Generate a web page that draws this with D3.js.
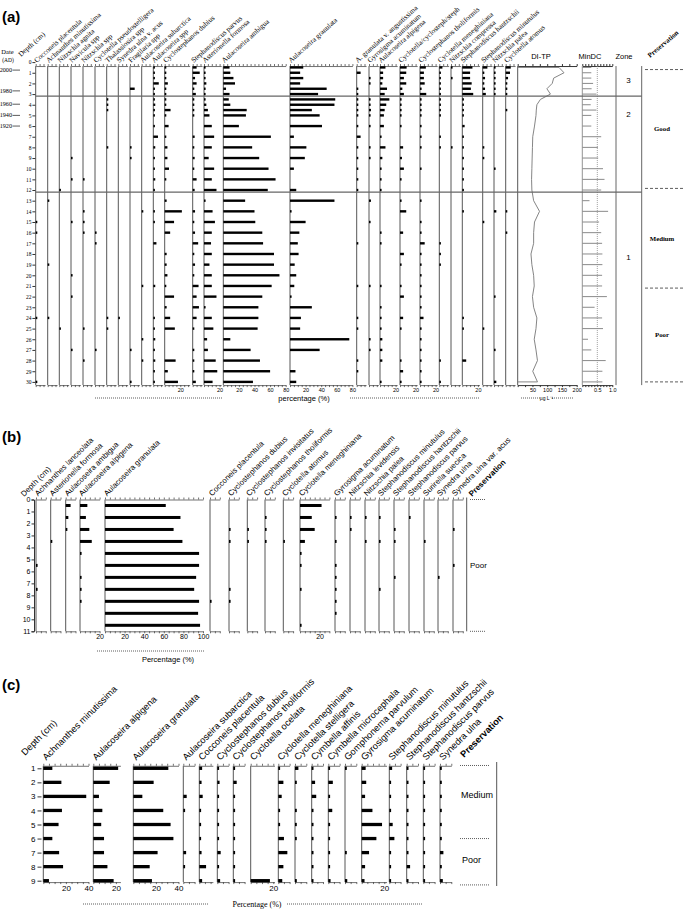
<!DOCTYPE html>
<html>
<head>
<meta charset="utf-8">
<script src="https://cdnjs.cloudflare.com/ajax/libs/d3/7.8.5/d3.min.js"></script>
<style>
  body { margin: 0; background: #fff; }
</style>
</head>
<body>
<div id="chart"></div>
<script>
// ---------- panel (a) data ----------
const depthsA = [0.5,1,1.5,2,2.5,3,3.5,4,4.5,5,6,7,8,9,10,11,12,13,14,15,16,17,18,19,20,21,22,23,24,25,26,27,28,29,30];
const taxaA = ["Cocconeis placentula","Achnanthes minutissima","Nitzschia agnita","Navicula spp","Nitzschia spp",
  "Cyclotella pseudostelligera","Thalassiosira spp","Synedra ulna v. acus","Fragilaria spp","Aulacoseira subarctica",
  "Aulacoseira spp","Cyclostephanos dubius","Stephanodiscus parvus","Asterionella formosa","Aulacoseira ambigua",
  "Aulacoseira granulata","A. granulata v. angustissima","Gyrosigma acuminatum","Aulacoseira alpigena",
  "Cyclotella/cyclosteph/steph","Cyclostephanos tholiformis","Cyclotella meneghiniana","Nitzschia compressa",
  "Stephanodiscus hantzschii","Stephanodiscus minutulus","Nitzschia palea","Cyclotella atomus"];
const valsA = [
  [0,0,0,0,0, 0,0,0,0,0, 0,0,0,0,0, 0,0,0,0,0.5, 0.5,0,0,0,0, 0,0,0,1,0, 0,0,0,0,1.5],
  [0,0,0,0,0, 0,0,0,0,0, 0,0,0,0,0, 0,0,1,0,0, 0,0,0,1,0, 0,0,0,0.5,0, 0,0,0,0,0],
  [0,0,0,0,0, 0,0,0,0,0, 0,0,0,0,0, 0,1,0,0,0, 0,0,0,0,0, 0,0,0,0,1, 0,0,0,0,0],
  [0,0,0,0,0, 0,0,0,0,0, 0,0,0,0.5,0, 0.5,0,0,0,1, 0,0,0,0,0.5, 0,0.5,0,0,0, 0,0.5,0,0,0],
  [0,0,0,0,0, 0,0,0,0,0, 0,0,0,0,0, 1,0,0,0.5,0.5, 1,0,0,0,0, 0,0,0,0,1, 0,0,0.5,0,0],
  [0,0,0,0,0, 0,0,0,0,0, 0,0,0,0,0, 0,0,0,0,0, 1,1.5,0,0,0, 0,0,0,0,0, 0,0.5,0,0,0],
  [0,0,0,0,0, 0,1.2,1.2,0.8,0, 0,0,0.5,0,0, 0,0,0,0,0, 0,0,0,0,0, 0,0,0,1,0.5, 0,0,0,0,0],
  [0,0,0,0,0, 0,0,0,0,0, 0,0,0,0,0, 0,0,0,0,0, 0,0,0,0,0, 0,0,0,0.5,0, 0,0,0,0,0],
  [0,0,0,0,6, 0,0,0,0,0, 0,0,1,1.5,0, 0,0,0,0,0, 0,0,0,0,0, 0,0,0,0,0, 0,1.5,0,0,1],
  [0,0,0,0,0, 0,0,0,0,0, 0,0,0,0,0, 0,0,0,1,0, 0,0,0,0,0, 1,0,0,0,0, 1.5,0,0.5,0,0],
  [0.5,1,1,7,1, 1,0.5,2.5,1,1, 1,6,2.5,1,1, 2.5,1,0,1.5,0.5, 0,4,0,0,0, 2.5,0,0,0.5,1.5, 2.5,1,2.5,0.5,1],
  [1.5,2,2,4,2, 1,1,1,7.5,1, 5,0.5,3.5,3.5,5.5, 1.5,0,2.5,22,12, 7,0,2.5,2.5,3.5, 0.5,12,2.5,7,13, 0,0,14,4,17],
  [5,9,3,5,2, 4,1,1,2,1, 0,2.5,1,2.5,2, 5,2.5,0,3,1.5, 3,7,0.5,3,2, 7.5,5,8,5,1, 0,1,1,1.5,4],
  [1,1,1,3,0.5, 1.5,1,3,5,7, 10,13,10,6,13, 10,16,1.5,11,14, 10,9,10,7,10, 10,16,1.5,10,12, 4,5,15,17,11],
  [8,9,13,15,3.5, 8,7,9,30,29, 20,61,37,46,58, 67,57,28,40,41, 50,51,65,65,72, 62,50,45,45,44, 9,35,47,60,38],
  [17,13,17,13,47, 36,58,57,28,38, 41,5,21,19,5, 0,8,57,2,20, 12,10,11,6,8, 5.5,1,28,14,13, 76,38,0,7,8],
  [0,5,0,0,0.5, 0.5,0.5,2,0.5,0.5, 0.5,5,1,0.5,1, 2,0.5,0,0,0, 0,1,0,0,0, 0.5,0,0,0.5,1.5, 0,0,0.5,0.5,0],
  [0,0,1,0.5,0, 0,1.5,2,2.5,1, 1,0,2,1,0, 0,0,2.5,0,0.5, 0,0,0,0,0, 1,0,0,0,0, 1,1.5,0,0,0],
  [7,4,4,3,9, 6,12,8,6,5, 5,0.5,7,3,0.5, 1,0.5,0,0,0, 1,0.5,0,0,0, 0.5,0,0.5,0.5,0.5, 3,3,3,0,1],
  [8.5,8,5,8,3, 5,1,1,1.5,1, 2,0,4,2.5,5, 1,0,1,8,0, 4,0,5,1,0, 1,5,0,4,1, 0,0,1,4,0.5],
  [7.5,5,5,6,1, 8,0.5,0.5,0.5,0.5, 0.5,0.5,0.5,0,0.5, 0,0,0.5,0,1, 1.5,6,2,1,0.5, 2,2,0.5,4.5,0.5, 0.5,0.5,0.5,0.5,1],
  [4,2,2,2,1, 1,1.5,1,1,0.5, 0,0.5,0.5,0,0, 0,0,0,0,0, 0,1.5,1,1.5,0, 0,0,0,0,0, 0,0,1.5,0,2],
  [0.5,0,0.5,0,0, 0,0,0,0,0, 0,0,0.5,0,0, 0,0,0,0,0, 0,0,0,0,0, 0,0,0,0,0, 0,0,0,0,0],
  [13,10,10,12,11, 14,1,1,1,0.5, 3,1,1,2,1, 1,1,0,1,0, 0,0,0,0,0, 0,0,0,1.5,2, 0,0,5,0,0],
  [6,2,3,1.5,3, 4,0,0,0,0, 0,0,0.5,0.5,0, 0,0,0,0,0.5, 0,0,0,0,0, 0,0,0,0,0.5, 0,0,0,0,0],
  [1,0.5,1,0.5,1, 0.5,0,0,0,0, 0,0,0,0,1, 0,0,0,3,0, 0,0,0,0,0, 0,2,0,0,0, 0,1,0,0,3],
  [6.5,5.5,3,2,1.5, 1,0,0,0.5,0, 0,0,0,0,0, 0,0,0,1,0, 0.5,0,0,0,0, 0,0,0,0,0, 0,0,0,0,0]
];
const maxA = [12,12,12,12,12,12,12,12,12,12,12,32,12,22,80,80,12,12,22,22,22,12,12,22,12,12,12];
const diTP = [140,157,122,117,99, 111,77,65,63,62, 57,51,50,49,48, 47,48,54,74,57, 54,54,45,48,54, 56,50,54,65,62, 56,62,67,51,67];
const minDC = [0.3,0.3,0.3,0.36,0.31, 0.47,0.31,0.28,0.47,0.3, 0.3,0.63,0.52,0.53,0.69, 0.74,0.63,0.24,0.86,0.56, 0.63,0.66,0.67,0.67,0.66, 0.66,0.82,0.41,0.66,0.69, 0.19,0.3,0.78,0.67,0.67];
const dateYears = [2000,1980,1960,1940,1920];
const dateDepths = [0.75,2.7,3.95,5,6];
const zoneBreaksA = [3.2,12.2];
const zoneNames = ["3","2","1"];
const zoneLabelDepths = [1.7,4.9,18.3];
const presBreaksA = [0.7,11.85,21.2,30];
const presNamesA = ["Good","Medium","Poor"];

// ---------- panel (b) data ----------
const depthsB = [0.5,1.5,2.5,3.5,4.5,5.5,6.5,7.5,8.5,9.5,10.5];
const taxaB = ["Achnanthes lanceolata","Asterionella formosa","Aulacoseira ambigua","Aulacoseira alpigena",
  "Aulacoseira granulata","Cocconeis placentula","Cyclostephanos dubius","Cyclostephanos invisitatus",
  "Cyclostephanos tholiformis","Cyclotella atomus","Cyclotella meneghiniana","Gyrosigma acuminatum",
  "Nitzschia levidensis","Nitzschia palea","Stephanodiscus minutulus","Stephanodiscus hantzschii",
  "Stephanodiscus parvus","Surirella suecica","Synedra ulna","Synedra ulna var. acus"];
const valsB = [
  [0,0,0,0,0,0.5,0,0.5,0,0,0],
  [0,0,0,0.3,0,0,0,0,0,0,0],
  [5,2.7,1.7,0,0,0,0,0,0,0,0],
  [7.5,6,9.5,12,1,0,1.5,1.5,1,0,0],
  [62,77,70,79,96,96,93,91,96,95,97],
  [0,0,0,0,0,0,0,0,0.5,0,0],
  [0,0,0.5,0.5,0,0,0,0.5,0.5,0,0],
  [0,0,0.5,0.5,0,0,0,0,0,0,0],
  [0,0.5,0.5,0.5,0,0,0,0,0,0,0],
  [0,0,0,0.5,0,0,0,0,0,0,0],
  [22,12,15,5,0.5,1.5,0,1,0,0,0.5],
  [0,0.5,0,0.3,0,0.5,1.5,0.5,0.5,1.5,0],
  [0,0.5,0.5,0,0,0,0,0,0,0,0],
  [0,0.5,0,0.5,0,0,0,0,0,0,0],
  [0,0.5,0,0.5,0,0,0,0.5,0,0,0],
  [0,0,0.5,0.5,0,0,1.5,0,0,0,0],
  [0,0.5,0,0,0,0,0,0,0,0,0],
  [0,0,0,0.5,0,0,0,0,0,0,0],
  [0,0,0,0,0,0,1,0,0,0,0],
  [0,0,0.5,0,0,0.5,0,0,0,0,0]
];
const maxB = [10,10,10,20,100,10,10,10,10,10,30,10,10,10,10,10,10,10,10,10];

// ---------- panel (c) data ----------
const depthsC = [1,2,3,4,5,6,7,8,9];
const taxaC = ["Achnanthes minutissima","Aulacoseira alpigena","Aulacoseira granulata","Aulacoseira subarctica",
  "Cocconeis placentula","Cyclostephanos dubius","Cyclostephanos tholiformis","Cyclotella ocelata",
  "Cyclotella meneghiniana","Cyclotella stelligera","Cymbella affinis","Cymbella microcephala",
  "Gomphonema parvulum","Gyrosigma acuminatum","Stephanodiscus minutulus","Stephanodiscus hantzschii",
  "Stephanodiscus parvus","Synedra ulna"];
const valsC = [
  [8,16,38,16.5,13.5,8,14,17.5,5],
  [22,14.5,5,8,7,9.5,9.5,12.5,18],
  [31,18,8,26.5,33,35.5,21.5,14.5,16.5],
  [0,0,3,1,0,0,2.5,0.5,0],
  [2.5,2,3,0.5,0.5,0.5,2,6,2.5],
  [0.5,2,1,1,1,1,3,1.5,2.5],
  [1,3,0.5,0.5,0.5,1.5,1,0.5,0.5],
  [0,0,0,0,0,0,0,0,17],
  [1.5,4.5,3,1,1.5,5,8,4.5,3.5],
  [3,0.5,0,0.5,0.5,0.5,0,0,0.5],
  [1,3,4,1,0.5,0.5,0.5,1,1],
  [1,4,1,3.5,0.5,1,0.5,1,2],
  [0.5,0,0,0,0,0,1.5,0,2],
  [3.5,4,3,9.5,18,13,6.5,3,2.5],
  [2.5,0.5,0.5,0.5,3,4.5,1.5,1,1.5],
  [0.5,0.5,0.5,0.5,0.5,0.5,0.5,3,1],
  [0.5,0.5,0.5,0.5,0.5,0.5,0.5,0.5,0.5],
  [0.5,0.5,0.5,0.5,0.5,0.5,3,0.5,2.5]
];
const maxC = [40,24,40,10,12,10,10,21,10,10,10,10,10,22,10,10,10,10];

// ---------- layout ----------
const xsA = [35.7,47.7,59.3,71,83,95,106.7,118.3,130,141.7,153.3,164.7,192.7,204,223.3,290,356.7,369,380,400,420,439.3,451,462.3,482.7,494,505.7];
const xsB = [36,50.7,65.7,80,105,210,229,247.3,265,283.3,300,335,350,365,379,394,409,424,438,453];
const xsC = [43.3,93.3,133.3,183.3,199.3,217.3,233.3,250.7,278.3,295,311.7,328.3,345,361.7,389.3,406.7,423.3,440];

const SERIF = '"Liberation Serif","DejaVu Serif",serif';
const SANS = '"Liberation Sans",Arial,sans-serif';

const svg = d3.select("#chart").append("svg")
  .attr("width", 685).attr("height", 909);

function tickLabels(mx) {
  if (mx >= 100) return [20,40,60,80,100];
  if (mx >= 80) return [20,40,60,80];
  if (mx >= 40) return [20,40];
  if (mx >= 20) return [20];
  return [];
}

// one stratigraphic column per taxon
function drawColumns(g, p) {
  p.taxa.forEach((name, i) => {
    const x0 = p.xs[i], mx = p.maxes[i];
    const x = d3.scaleLinear().domain([0, mx]).range([x0, x0 + mx * p.k]);
    const ticks = d3.range(0, mx + 0.001, 5);
    const lab = tickLabels(mx);
    const col = g.append("g");

    col.append("g").attr("transform", `translate(0,${p.yTop})`)
      .call(d3.axisTop(x).tickValues(ticks).tickSize(2).tickSizeOuter(0).tickFormat(""))
      .attr("color", "#333").selectAll("path,line").attr("stroke-width", 0.7);

    col.append("g").attr("transform", `translate(0,${p.yBot})`)
      .call(d3.axisBottom(x).tickValues(ticks).tickSize(2).tickSizeOuter(0).tickPadding(1)
        .tickFormat(v => lab.includes(v) ? v : ""))
      .attr("color", "#333")
      .attr("font-size", p.tickFs).attr("font-family", p.tickFf)
      .call(a => a.selectAll("path,line").attr("stroke-width", 0.7))
      .call(a => a.selectAll("text").attr("fill", "#000"));

    col.append("line")
      .attr("x1", x0).attr("x2", x0).attr("y1", p.yTop).attr("y2", p.yBot)
      .attr("stroke", "#444").attr("stroke-width", 0.9);

    col.selectAll("rect")
      .data(p.vals[i].map((v, j) => ({v: v, d: p.depths[j]})).filter(e => e.v > 0))
      .join("rect")
        .attr("x", x0)
        .attr("y", e => p.y(e.d) - p.barH / 2)
        .attr("width", e => Math.max(p.minW, x(e.v) - x0))
        .attr("height", p.barH)
        .attr("fill", "#000");

    col.append("text")
      .attr("transform", `translate(${x0 + p.lx},${p.yTop + p.ly}) rotate(${-p.angle})`)
      .attr("font-size", p.fs).attr("font-family", p.ff)
      .text(name);
  });
}

function dotted(g, x1, x2, y, dash) {
  g.append("line").attr("x1", x1).attr("x2", x2).attr("y1", y).attr("y2", y)
    .attr("stroke", "#333").attr("stroke-width", 0.8).attr("stroke-dasharray", dash || "1,1");
}

// ================= panel (a) =================
const gA = svg.append("g");
const yA = d3.scaleLinear().domain([0, 30]).range([62.1, 381.9]);
const yTopA = yA(0.37), yBotA = yA(30.3);

gA.append("text").attr("x", 2).attr("y", 22).attr("font-size", 15).attr("font-weight", "bold")
  .attr("font-family", SANS).text("(a)");

drawColumns(gA, {taxa: taxaA, vals: valsA, depths: depthsA, xs: xsA, maxes: maxA, k: 0.78,
  y: yA, yTop: yTopA, yBot: yBotA, barH: 2.4, minW: 1.6, tickFs: 5.5, tickFf: SANS,
  lx: 1, ly: -3, angle: 42, fs: 7.2, ff: SERIF});

// depth axis
gA.append("g").attr("transform", "translate(35.4,0)")
  .call(d3.axisLeft(yA).tickValues(d3.range(0, 31)).tickSize(3).tickPadding(1))
  .attr("font-size", 5.5).attr("font-family", SERIF).attr("color", "#333")
  .call(a => a.select(".domain").remove())
  .call(a => a.selectAll("text").attr("fill", "#000"));

gA.append("text").attr("transform", "translate(21,57) rotate(-42)")
  .attr("font-size", 7.2).attr("font-family", SERIF).text("Depth (cm)");
gA.append("text").attr("x", 7.5).attr("y", 54).attr("text-anchor", "middle")
  .attr("font-size", 6.5).attr("font-family", SERIF).text("Date");
gA.append("text").attr("x", 8).attr("y", 62).attr("text-anchor", "middle")
  .attr("font-size", 5.5).attr("font-family", SERIF).text("(AD)");

dateYears.forEach((yr, i) => {
  const yy = yA(dateDepths[i]);
  gA.append("text").attr("x", 12).attr("y", yy + 2).attr("text-anchor", "end")
    .attr("font-size", 6.2).attr("font-family", SERIF).text(yr);
  gA.append("line").attr("x1", 12.5).attr("x2", 20).attr("y1", yy).attr("y2", yy)
    .attr("stroke", "#333").attr("stroke-width", 0.8);
});

// DI-TP curve
const xTP = d3.scaleLinear().domain([0, 200]).range([517.7, 576.7]);
gA.append("g").attr("transform", `translate(0,${yTopA})`)
  .call(d3.axisTop(xTP).tickValues(d3.range(0, 201, 25)).tickSize(2).tickSizeOuter(0).tickFormat(""))
  .attr("color", "#333");
gA.append("g").attr("transform", `translate(0,${yBotA})`)
  .call(d3.axisBottom(xTP).tickValues(d3.range(0, 201, 25)).tickSize(2).tickSizeOuter(0).tickPadding(1)
    .tickFormat(v => v > 0 && v % 50 === 0 ? v : ""))
  .attr("color", "#333").attr("font-size", 5.5).attr("font-family", SANS)
  .call(a => a.selectAll("text").attr("fill", "#000"));
gA.append("line").attr("x1", xTP(0)).attr("x2", xTP(0)).attr("y1", yTopA).attr("y2", yBotA)
  .attr("stroke", "#444").attr("stroke-width", 0.9);
const tpPts = [[0, depthsA[0]]].concat(diTP.map((v, i) => [v, depthsA[i]]), [[0, depthsA[depthsA.length - 1]]]);
gA.append("path")
  .attr("d", d3.line().x(d => xTP(d[0])).y(d => yA(d[1]))(tpPts))
  .attr("fill", "none").attr("stroke", "#777").attr("stroke-width", 0.9);
gA.append("text").attr("x", 541).attr("y", 59).attr("text-anchor", "middle")
  .attr("font-size", 7.5).attr("font-family", SANS).text("DI-TP");

// MinDC bars
const xDC = d3.scaleLinear().domain([0, 1]).range([582.3, 612.3]);
gA.append("g").attr("transform", `translate(0,${yTopA})`)
  .call(d3.axisTop(xDC).tickValues(d3.range(0, 1.01, 0.1)).tickSize(2).tickSizeOuter(0).tickFormat(""))
  .attr("color", "#333");
gA.append("g").attr("transform", `translate(0,${yBotA})`)
  .call(d3.axisBottom(xDC).tickValues(d3.range(0, 1.01, 0.1)).tickSize(2).tickSizeOuter(0).tickPadding(1)
    .tickFormat(v => Math.abs(v - 0.5) < 0.01 ? "0.5" : Math.abs(v - 1) < 0.01 ? "1.0" : ""))
  .attr("color", "#333").attr("font-size", 5.5).attr("font-family", SANS)
  .call(a => a.selectAll("text").attr("fill", "#000"));
gA.append("line").attr("x1", xDC(0)).attr("x2", xDC(0)).attr("y1", yTopA).attr("y2", yBotA)
  .attr("stroke", "#888").attr("stroke-width", 0.9);
gA.append("line").attr("x1", xDC(0.5)).attr("x2", xDC(0.5)).attr("y1", yTopA).attr("y2", yBotA)
  .attr("stroke", "#888").attr("stroke-width", 0.8).attr("stroke-dasharray", "1,1");
gA.selectAll(".dc").data(minDC.map((v, i) => ({v: v, d: depthsA[i]}))).join("line")
  .attr("class", "dc")
  .attr("x1", xDC(0)).attr("x2", d => xDC(d.v))
  .attr("y1", d => yA(d.d)).attr("y2", d => yA(d.d))
  .attr("stroke", "#8a8a8a").attr("stroke-width", 1);
gA.append("text").attr("x", 590).attr("y", 59).attr("text-anchor", "middle")
  .attr("font-size", 7.5).attr("font-family", SANS).text("MinDC");

// zones
[616, 641.7].forEach(xx => gA.append("line").attr("x1", xx).attr("x2", xx)
  .attr("y1", yTopA).attr("y2", yBotA).attr("stroke", "#555").attr("stroke-width", 0.9));
gA.append("text").attr("x", 624).attr("y", 59).attr("text-anchor", "middle")
  .attr("font-size", 7.5).attr("font-family", SANS).text("Zone");
zoneBreaksA.forEach(b => gA.append("line")
  .attr("x1", 35.7).attr("x2", 641.7).attr("y1", yA(b)).attr("y2", yA(b))
  .attr("stroke", "#666").attr("stroke-width", 1.3));
zoneNames.forEach((z, i) => gA.append("text").attr("x", 628.5).attr("y", yA(zoneLabelDepths[i]) + 3)
  .attr("text-anchor", "middle").attr("font-size", 8).attr("font-family", SANS).text(z));

// preservation (a)
presBreaksA.forEach(b => dotted(gA, 645, 684, yA(b), "3,2"));
presNamesA.forEach((n, i) => gA.append("text")
  .attr("x", 662).attr("y", yA((presBreaksA[i] + presBreaksA[i + 1]) / 2) + 2.5)
  .attr("text-anchor", "middle").attr("font-size", 6.8).attr("font-weight", "bold")
  .attr("font-family", SERIF).text(n));
gA.append("text").attr("transform", "translate(650,58) rotate(-40)")
  .attr("font-size", 7).attr("font-weight", "bold").attr("font-family", SERIF).text("Preservation");

// axis titles (a)
dotted(gA, 95, 223, 398);
dotted(gA, 350, 479, 398);
gA.append("text").attr("x", 304).attr("y", 401).attr("text-anchor", "middle")
  .attr("font-size", 7.5).attr("font-family", SANS).text("percentage (%)");
dotted(gA, 521, 541, 398);
dotted(gA, 552, 573, 398);
gA.append("text").attr("x", 546.5).attr("y", 400).attr("text-anchor", "middle")
  .attr("font-size", 5).attr("font-family", SANS).text("µg L⁻¹");

// ================= panel (b) =================
const gB = svg.append("g");
const yB = d3.scaleLinear().domain([0, 11]).range([499.5, 631.3]);
gB.append("text").attr("x", 2).attr("y", 442).attr("font-size", 15).attr("font-weight", "bold")
  .attr("font-family", SANS).text("(b)");
drawColumns(gB, {taxa: taxaB, vals: valsB, depths: depthsB, xs: xsB, maxes: maxB, k: 0.98,
  y: yB, yTop: yB(0), yBot: yB(11), barH: 3, minW: 1.6, tickFs: 7, tickFf: SANS,
  lx: 2, ly: -3, angle: 45, fs: 7.8, ff: SANS});
gB.append("g").attr("transform", "translate(34,0)")
  .call(d3.axisLeft(yB).tickValues(d3.range(0, 12)).tickSize(2.5).tickPadding(1))
  .attr("font-size", 7).attr("font-family", SANS).attr("color", "#333")
  .call(a => a.selectAll("text").attr("fill", "#000"));
gB.append("text").attr("transform", "translate(24,497) rotate(-45)")
  .attr("font-size", 7.8).attr("font-family", SANS).text("Depth (cm)");
gB.append("line").attr("x1", 466.7).attr("x2", 466.7).attr("y1", yB(0) - 2).attr("y2", yB(11))
  .attr("stroke", "#555").attr("stroke-width", 1);
dotted(gB, 470, 485, yB(0));
dotted(gB, 470, 485, yB(11));
gB.append("text").attr("x", 470).attr("y", yB(5.5) + 3).attr("font-size", 8)
  .attr("font-family", SANS).text("Poor");
gB.append("text").attr("transform", "translate(472,497) rotate(-45)")
  .attr("font-size", 8).attr("font-weight", "bold").attr("font-family", SANS).text("Preservation");
dotted(gB, 97, 205, 651);
gB.append("text").attr("x", 168).attr("y", 662).attr("text-anchor", "middle")
  .attr("font-size", 7.5).attr("font-family", SANS).text("Percentage (%)");

// ================= panel (c) =================
const gC = svg.append("g");
const yC = d3.scaleLinear().domain([1, 9]).range([768.3, 880.7]);
gC.append("text").attr("x", 2).attr("y", 690).attr("font-size", 15).attr("font-weight", "bold")
  .attr("font-family", SANS).text("(c)");
drawColumns(gC, {taxa: taxaC, vals: valsC, depths: depthsC, xs: xsC, maxes: maxC, k: 1.13,
  y: yC, yTop: yC(0.82), yBot: yC(9.1), barH: 3.3, minW: 1.8, tickFs: 8, tickFf: SANS,
  lx: 3, ly: -5, angle: 45, fs: 9.3, ff: SANS});
gC.append("g").attr("transform", "translate(41.5,0)")
  .call(d3.axisLeft(yC).tickValues(depthsC).tickSize(4).tickPadding(2))
  .attr("font-size", 8).attr("font-family", SANS).attr("color", "#333")
  .call(a => a.select(".domain").remove())
  .call(a => a.selectAll("text").attr("fill", "#000"));
gC.append("text").attr("transform", "translate(25,756) rotate(-45)")
  .attr("font-size", 9.3).attr("font-family", SANS).text("Depth (cm)");
gC.append("line").attr("x1", 496.7).attr("x2", 496.7).attr("y1", 762).attr("y2", 886)
  .attr("stroke", "#555").attr("stroke-width", 1);
dotted(gC, 460, 490, yC(0.8));
dotted(gC, 460, 490, yC(6.0));
dotted(gC, 460, 490, yC(9.3));
gC.append("text").attr("x", 461).attr("y", 798).attr("font-size", 9)
  .attr("font-family", SANS).text("Medium");
gC.append("text").attr("x", 462).attr("y", 863).attr("font-size", 9)
  .attr("font-family", SANS).text("Poor");
gC.append("text").attr("transform", "translate(464,758) rotate(-45)")
  .attr("font-size", 9.3).attr("font-weight", "bold").attr("font-family", SANS).text("Preservation");
dotted(gC, 83, 208, 904);
dotted(gC, 287, 423, 904);
gC.append("text").attr("x", 257).attr("y", 907).attr("text-anchor", "middle")
  .attr("font-size", 8).attr("font-family", SERIF).text("Percentage (%)");
</script>
</body>
</html>
